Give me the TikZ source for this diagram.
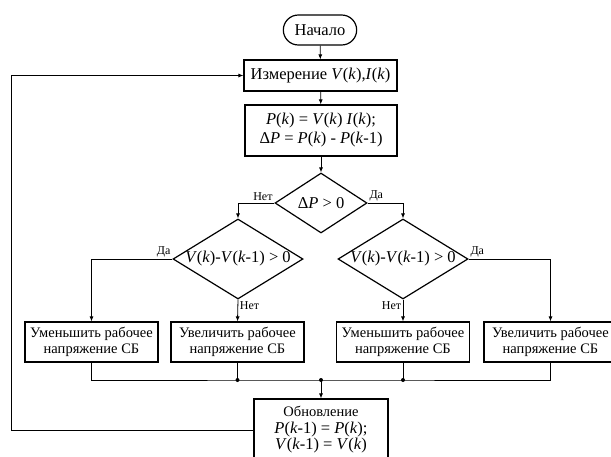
\documentclass[tikz,border=0pt]{standalone}
\usepackage{fontspec}
\setmainfont{Liberation Serif}
\usetikzlibrary{shapes.geometric,shapes.misc,arrows.meta}
\newcommand{\vi}[1]{\textit{#1}}
\begin{document}
\begin{tikzpicture}[x=1pt,y=-1pt,font=\fontsize{16.5}{19}\selectfont]
\tikzset{
  block/.style = {draw, line width=1.2pt, rectangle, align=center, inner sep=2pt},
  act/.style = {block, minimum width=133pt, minimum height=40pt, font=\fontsize{14.5}{16.5}\selectfont},
  cond/.style = {draw, line width=1.2pt, diamond, inner sep=0pt},
  term/.style = {draw, line width=1.2pt, rounded rectangle, minimum width=80pt, minimum height=30pt},
  flow/.style = {line width=0.8pt},
  arr/.style = {flow, -{Latex[length=5pt,width=4pt]}},
  lbl/.style = {font=\fontsize{12}{13}\selectfont, inner sep=1.5pt},
  junc/.style = {circle, fill=black, minimum size=4pt, inner sep=0pt}
}
\useasboundingbox (0,0) rectangle (611,456);
\node[term] (start) at (320,30) {Начало};
\node[block, minimum width=153pt, minimum height=31pt] (meas) at (320.5,75.5) {Измерение \vi{V}(\vi{k}),\vi{I}(\vi{k})};
\node[block, minimum width=152pt, minimum height=51pt] (calc) at (321,130.5) {\vi{P}(\vi{k}) = \vi{V}(\vi{k}) \vi{I}(\vi{k});\\Δ\vi{P} = \vi{P}(\vi{k}) - \vi{P}(\vi{k}-1)};
\node[cond, minimum width=92pt, minimum height=60pt] (dP) at (321,203) {\makebox[0pt]{Δ\vi{P} > 0}};
\node[cond, minimum width=130pt, minimum height=80pt] (dL) at (238,259) {\makebox[0pt]{\vi{V}(\vi{k})-\vi{V}(\vi{k}-1) > 0}};
\node[cond, minimum width=130pt, minimum height=80pt] (dR) at (403,259) {\makebox[0pt]{\vi{V}(\vi{k})-\vi{V}(\vi{k}-1) > 0}};
\node[act] (b1) at (91.5,342) {Уменьшить рабочее\\напряжение СБ};
\node[act] (b2) at (237.5,342) {Увеличить рабочее\\напряжение СБ};
\node[act] (b3) at (403,342) {Уменьшить рабочее\\напряжение СБ};
\node[act] (b4) at (550.5,342) {Увеличить рабочее\\напряжение СБ};
\node[block, minimum width=134pt, minimum height=62pt, font=\fontsize{16.5}{16.5}\selectfont] (upd) at (321,430) {{\fontsize{14.5}{16.5}\selectfont Обновление}\\\vi{P}(\vi{k}-1) = \vi{P}(\vi{k});\\\vi{V}(\vi{k}-1) = \vi{V}(\vi{k})};
% junctions
\node[junc] (m) at (321,380) {};
\node[junc] (j2) at (b2.south |- m) {};
\node[junc] (j3) at (b3.south |- m) {};
\coordinate (fb) at (11,430);
% connectors
\draw[arr] (start) -- (meas);
\draw[arr] (meas) -- (calc);
\draw[arr] (calc) -- (dP);
\draw[arr] (dP.west) -| node[lbl, pos=0, anchor=south east] {Нет} (dL.north);
\draw[arr] (dP.east) -| node[lbl, pos=0, anchor=south west] {Да} (dR.north);
\draw[arr] (dL.west) -| node[lbl, pos=0, anchor=south east] {Да} (b1.north);
\draw[arr] (dL.south) -- node[lbl, pos=0, anchor=north west] {Нет} (b2.north);
\draw[arr] (dR.south) -- node[lbl, pos=0, anchor=north east] {Нет} (b3.north);
\draw[arr] (dR.east) -| node[lbl, pos=0, anchor=south west] {Да} (b4.north);
\draw[flow] (b1.south) |- (m.center) -| (b4.south);
\draw[flow] (b2.south) -- (j2.center);
\draw[flow] (b3.south) -- (j3.center);
\draw[arr] (m.center) -- (upd.north);
\draw[arr] (upd.west) -- (fb) |- (meas.west);
\end{tikzpicture}
\end{document}
